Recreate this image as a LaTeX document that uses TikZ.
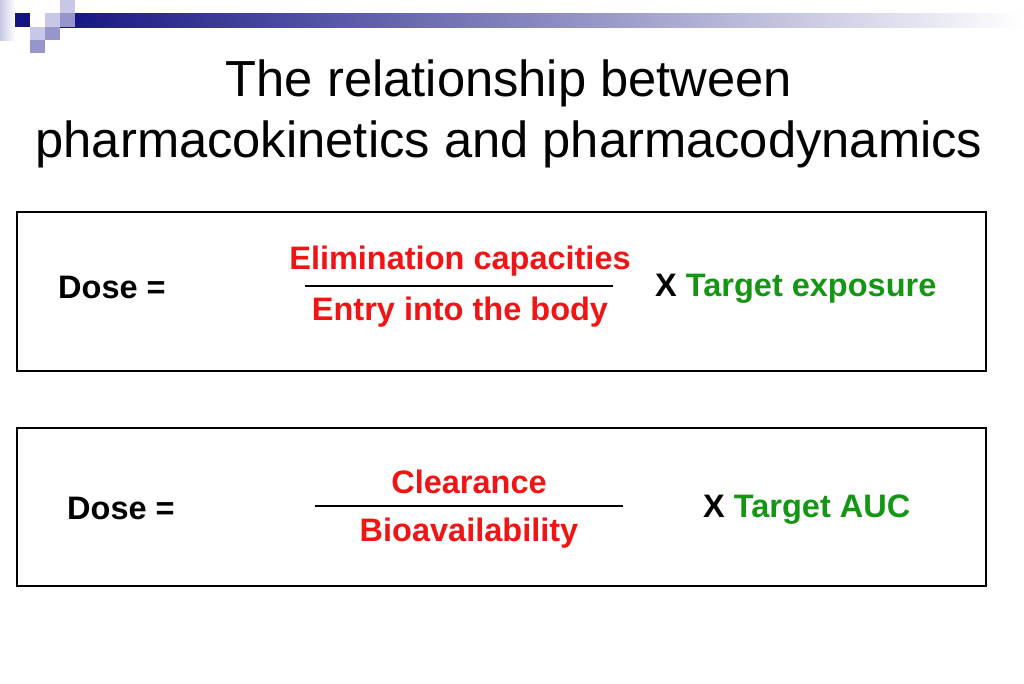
\documentclass[tikz,border=0pt]{standalone}
\usepackage{fontspec}
\setmainfont{Liberation Sans}
\definecolor{navy}{RGB}{20,20,130}
\definecolor{sq1}{RGB}{200,200,230}
\definecolor{sq2}{RGB}{150,150,205}
\definecolor{rd}{RGB}{240,20,20}
\definecolor{gr}{RGB}{20,150,20}
\begin{document}
\begin{tikzpicture}[x=1pt,y=-1pt,
  box/.style={draw,line width=1.5pt},
  lbl/.style={font=\bfseries\fontsize{32.5}{36}\selectfont,inner sep=0pt},
  red/.style={lbl,text=rd},
  grn/.style={lbl,text=gr}]
\useasboundingbox (0,0) rectangle (1024,683);
\fill[white] (0,0) rectangle (1024,683);
\shade[left color=navy,right color=white] (60,13) rectangle (1024,27);
\fill[left color=sq1,right color=white] (0,0) rectangle (15,40);
\fill[navy] (15,13) rectangle (30,27);
\fill[sq1] (45,13) rectangle (60,27);
\fill[sq1] (60,0) rectangle (75,13);
\fill[sq2] (60,13) rectangle (75,27);
\fill[sq1] (30,27) rectangle (45,40);
\fill[sq2] (45,27) rectangle (60,40);
\fill[sq2] (30,40) rectangle (45,53);
\node[font=\fontsize{50.7}{61}\selectfont,align=center] (title) at (509,114) {The relationship between\\pharmacokinetics and pharmacodynamics};
\draw[box] (17,212) rectangle (986,371);
\draw[box] (17,428) rectangle (986,586);
\node[lbl,anchor=west] (d1) at (58,287) {Dose =};
\node[red] (n1) at (460,261) {Elimination capacities};
\node[red] (m1) at (460,312) {Entry into the body};
\draw[line width=1.5pt] (305,286) -- (613,286);
\node[lbl,anchor=west] (t1) at (655,289) {X \textcolor{gr}{Target exposure}};
\node[lbl,anchor=west] (d2) at (67,508) {Dose =};
\node[red] (n2) at (469,482) {Clearance};
\node[red] (m2) at (469,533) {Bioavailability};
\draw[line width=1.5pt] (315,506) -- (623,506);
\node[lbl,anchor=west] (t2) at (703,510) {X \textcolor{gr}{Target AUC}};
\end{tikzpicture}
\end{document}
